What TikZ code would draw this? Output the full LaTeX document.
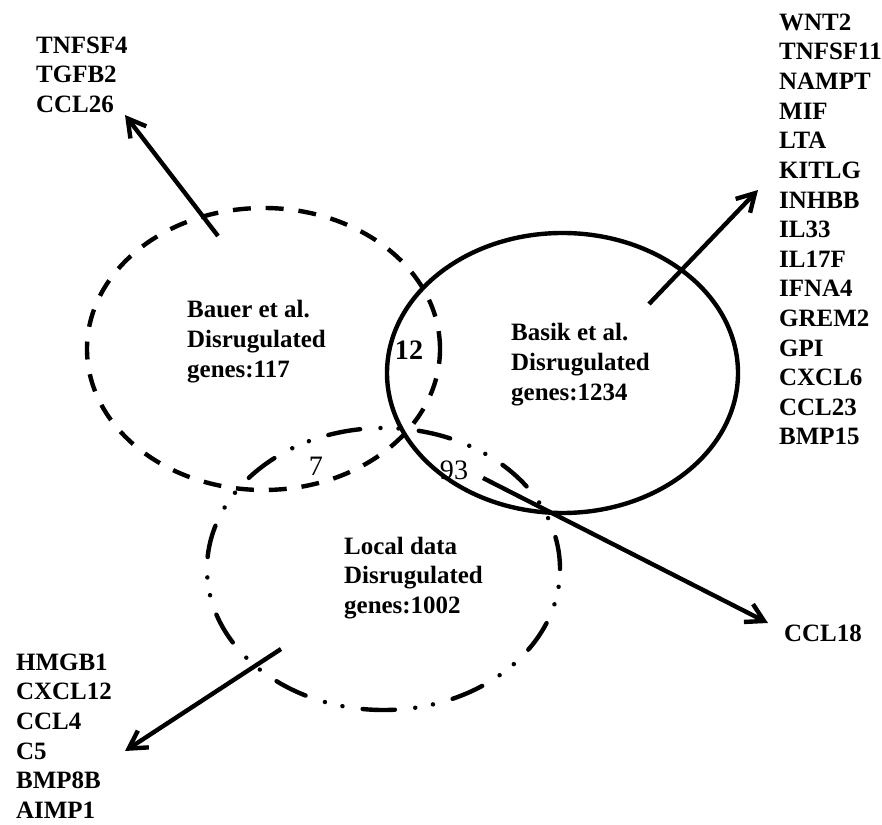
\documentclass[tikz,border=0pt]{standalone}
\usepackage{fontspec}
\setmainfont{Liberation Serif}
\usetikzlibrary{arrows.meta}

\begin{document}
\begin{tikzpicture}[
        line width = 2.5pt,
        genelist/.style = {anchor = west, align = left, inner sep = 0pt, font = \fontsize{14.2}{16.85}\selectfont\bfseries},
        overlap/.style = {inner sep = 0pt, font = \fontsize{16}{18}\selectfont},
        arrow/.style = {-{Straight Barb[length = 3.5mm, width = 4mm]}}
    ]
        \useasboundingbox (0,0) rectangle (17.64,16.48);
        % centers
        \coordinate(Bauer) at (5.27,9.5);
        \coordinate(Basik) at (11.25,9.02);
        \coordinate(Local) at (7.67,5.1);
        % sets
        \path[draw, dash pattern = on 10.2pt off 8.5pt] (Bauer) ellipse [x radius = 3.53, y radius = 2.82];
        \path[draw] (Basik) ellipse [x radius = 3.51, y radius = 2.80];
        \path[draw, line cap = round, dash pattern = on 18.4pt off 11.6pt on 0.05pt off 10.2pt on 0.05pt off 11.6pt] (Local) ellipse [x radius = 3.53, y radius = 2.82];
        % set labels
        \node[genelist](bauerText) at (3.70,9.65) {Bauer et al.\\Disrugulated\\genes:117};
        \node[genelist](basikText) at (10.18,9.19) {Basik et al.\\Disrugulated\\genes:1234};
        \node[genelist](localText) at (6.84,4.92) {Local data\\Disrugulated\\genes:1002};
        % overlaps
        \node[overlap](n12) at (8.18,9.48) {\textbf{12}};
        \node[overlap](n7) at (6.32,7.16) {7};
        \node[overlap](n93) at (9.08,7.08) {93};
        % gene lists
        \node[genelist](bauerGenes) at (0.68,14.99) {TNFSF4\\TGFB2\\CCL26};
        \node[genelist](basikGenes) at (15.54,11.89) {WNT2\\TNFSF11\\NAMPT\\MIF\\LTA\\KITLG\\INHBB\\IL33\\IL17F\\IFNA4\\GREM2\\GPI\\CXCL6\\CCL23\\BMP15};
        \node[genelist](localGenes) at (0.28,1.76) {HMGB1\\CXCL12\\CCL4\\C5\\BMP8B\\AIMP1};
        \node[genelist](sharedGenes) at (15.64,3.82) {CCL18};
        % arrows
        \coordinate(bauerFrom) at (4.36,11.76);
        \coordinate(bauerTo) at (2.50,14.18);
        \coordinate(basikFrom) at (12.98,10.40);
        \coordinate(basikTo) at (15.16,12.68);
        \coordinate(sharedFrom) at (9.66,6.92);
        \coordinate(sharedTo) at (15.36,4.02);
        \coordinate(localFrom) at (5.62,3.50);
        \coordinate(localTo) at (2.50,1.46);
        \path[draw, arrow](bauerFrom) to (bauerTo);
        \path[draw, arrow](basikFrom) to (basikTo);
        \path[draw, arrow](sharedFrom) to (sharedTo);
        \path[draw, arrow](localFrom) to (localTo);
    \end{tikzpicture}
\end{document}
